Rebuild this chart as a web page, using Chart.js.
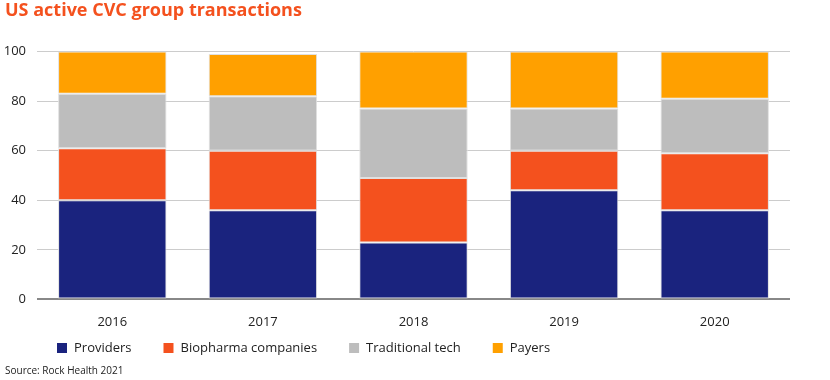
<!DOCTYPE html>
<html>
<head>
<meta charset="utf-8">
<title>US active CVC group transactions</title>
<script src="https://cdn.jsdelivr.net/npm/chart.js@4.4.1/dist/chart.umd.min.js"></script>
<style>
	html, body { margin: 0; padding: 0; background: #fff; }
	#wrap { width: 830px; height: 380px; }
</style>
</head>
<body>
<div id="wrap"><canvas id="graficoCvc" width="830" height="380"></canvas></div>
<script>
var anos = ['2016', '2017', '2018', '2019', '2020'];
var providers = [40, 36, 23, 44, 36];
var biopharma = [21, 24, 26, 16, 23];
var tradTech = [22, 22, 28, 17, 22];
var payers = [17, 17, 23, 23, 19];
var ticksY = [0, 20, 40, 60, 80, 100];

var fonte = '"Open Sans", "DejaVu Sans", sans-serif';

// legenda desenhada a mao, para ter o espacamento do original
var legendaPlugin = {
	id: 'legendaManual',
	afterDraw: function(chart) {
		var ctx = chart.ctx;
		var x = 57, y = 348;
		ctx.save();
		ctx.font = '13px ' + fonte;
		ctx.textBaseline = 'middle';
		chart.data.datasets.forEach(function(ds) {
			ctx.fillStyle = ds.backgroundColor;
			ctx.fillRect(x, y - 5, 10, 10);
			ctx.fillStyle = '#222';
			ctx.fillText(ds.label, x + 17, y);
			x += 17 + ctx.measureText(ds.label).width + 32;
		});
		ctx.restore();
	}
};

var grafico = new Chart(document.getElementById('graficoCvc').getContext('2d'), {
	type: 'bar',
	data: {
		labels: anos,
		datasets: [
			{ label: 'Providers', data: providers, backgroundColor: '#1a237e' },
			{ label: 'Biopharma companies', data: biopharma, backgroundColor: '#f4511e' },
			{ label: 'Traditional tech', data: tradTech, backgroundColor: '#bdbdbd' },
			{ label: 'Payers', data: payers, backgroundColor: '#ffa000' }
		]
	},
	options: {
		responsive: false,
		animation: false,
		layout: { padding: { left: 5, right: 40, top: 0, bottom: 0 } },
		datasets: {
			bar: {
				borderColor: '#e0e0e0',
				borderWidth: 1,
				borderSkipped: false,
				categoryPercentage: 0.8,
				barPercentage: 0.9
			}
		},
		plugins: {
			legend: { display: false },
			tooltip: { enabled: false },
			title: {
				display: true,
				text: 'US active CVC group transactions',
				align: 'start',
				color: '#f4511e',
				font: { family: fonte, size: 18, weight: 'bold' },
				padding: { top: 0, bottom: 30 }
			},
			subtitle: {
				display: true,
				position: 'bottom',
				text: 'Source: Rock Health 2021',
				align: 'start',
				color: '#222',
				font: { family: fonte, size: 10 },
				padding: { top: 20, bottom: 3 }
			}
		},
		scales: {
			x: {
				stacked: true,
				grid: { display: false, drawTicks: false },
				border: { display: false },
				ticks: { color: '#222', font: { family: fonte, size: 13 }, padding: 15 }
			},
			y: {
				stacked: true,
				min: 0,
				max: 100,
				afterBuildTicks: function(axis) {
					axis.ticks = ticksY.map(function(v) { return { value: v }; });
				},
				afterFit: function(axis) { axis.width = 32; },
				grid: {
					drawTicks: false,
					color: function(c) { return c.tick && c.tick.value === 0 ? '#888888' : '#cccccc'; },
					lineWidth: function(c) { return c.tick && c.tick.value === 0 ? 2 : 1; }
				},
				border: { display: false },
				ticks: { color: '#222', font: { family: fonte, size: 13 }, padding: 11 }
			}
		}
	},
	plugins: [legendaPlugin]
});
</script>
</body>
</html>
